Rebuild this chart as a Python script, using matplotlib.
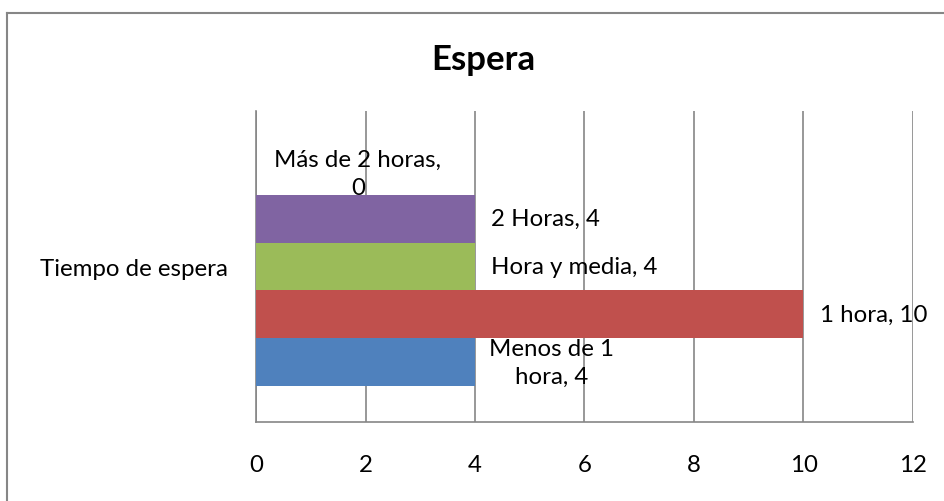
import matplotlib
matplotlib.use("Agg")
import matplotlib.pyplot as plt
from matplotlib.lines import Line2D

plt.rcParams['font.family'] = ['Lato', 'DejaVu Sans']

title = "Espera"
category = "Tiempo de espera"
series = ["Menos de 1 hora", "1 hora", "Hora y media", "2 Horas", "Más de 2 horas"]
values = [4, 10, 4, 4, 0]
colors = ["#4F81BD", "#C0504D", "#9BBB59", "#8064A2", "#4BACC6"]
label_texts = ["Menos de 1\nhora, 4", "1 hora, 10", "Hora y media, 4", "2 Horas, 4", "Más de 2 horas,\n0"]
xticks = [0, 2, 4, 6, 8, 10, 12]

fig = plt.figure(figsize=(9.45, 5.02), dpi=100)
W, H = 945, 502
ax = fig.add_axes([256 / W, 1 - 423 / H, (913 - 256) / W, (423 - 112) / H])

h = 0.1543
for i, (s, v, c) in enumerate(zip(series, values, colors)):
    y = (i - 2) * h
    ax.barh(y, v, height=h, color=c, zorder=3)

FS = 17.3
# data labels
lab_pos = [(5.4, -2 * h, 'center'), (10.3, -1 * h, 'left'), (4.3, 0, 'left'),
           (4.3, 1 * h, 'left'), (1.86, 2 * h - 0.01, 'center')]
for (x, y, ha), t in zip(lab_pos, label_texts):
    ax.text(x, y, t, ha=ha, va='center', fontsize=FS, linespacing=1.4, zorder=4)

ax.set_xlim(0, 12)
ax.set_ylim(-0.5, 0.5)
ax.set_xticks(xticks)
ax.set_xticklabels([str(t) for t in xticks], fontsize=FS)
ax.set_yticks([0])
ax.set_yticklabels([category], fontsize=FS)
ax.tick_params(axis='both', length=0)
ax.tick_params(axis='x', pad=23)
ax.tick_params(axis='y', pad=20)
ax.grid(axis='x', color='#868686', linewidth=1.2, zorder=0)
for sp in ['top', 'right']:
    ax.spines[sp].set_visible(False)
for sp in ['left', 'bottom']:
    ax.spines[sp].set_color('#868686')
    ax.spines[sp].set_linewidth(1.2)

fig.text(483 / W, 1 - 60 / H, title, ha='center', va='center', fontsize=25, fontweight='bold')

# chart border (top and left visible; right/bottom outside the image)
fig.add_artist(Line2D([7.5 / W, 1.0], [1 - 13.5 / H, 1 - 13.5 / H], color='#868686', linewidth=1.5))
fig.add_artist(Line2D([7.5 / W, 7.5 / W], [0, 1 - 13.5 / H], color='#868686', linewidth=1.5))

fig.savefig("out.png", dpi=100)
